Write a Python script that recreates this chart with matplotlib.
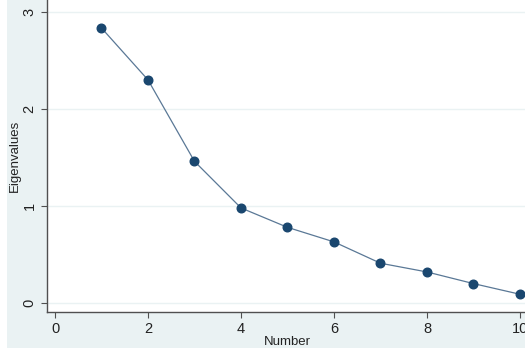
import matplotlib
matplotlib.use("Agg")
import matplotlib.pyplot as plt
from matplotlib.patches import Rectangle

number = [1, 2, 3, 4, 5, 6, 7, 8, 9, 10]
eigenvalues = [2.835, 2.30, 1.46, 0.98, 0.78, 0.63, 0.41, 0.32, 0.20, 0.09]
xticks = [0, 2, 4, 6, 8, 10]
yticks = [0, 1, 2, 3]

plt.rcParams['font.family'] = ['Liberation Sans', 'DejaVu Sans']

W, H = 525, 350
fig = plt.figure(figsize=(5.25, 3.5), dpi=100, facecolor='white')
bg = '#eaf2f3'
fig.patches.append(Rectangle((7 / W, 2 / H), 1 - 7 / W, 1 - 2 / H,
                             transform=fig.transFigure, facecolor=bg,
                             edgecolor='none', zorder=-10))

# pixel geometry
left_px, bottom_px = 47, 312
x0_px, xunit = 55, 46.5
y0_px, yunit = 303, 97
xmin = (left_px - x0_px) / xunit
xmax = 10.17
ymin = -(bottom_px - y0_px) / yunit
ymax = y0_px / yunit
ax_w = (xmax - xmin) * xunit
ax_h = bottom_px

ax = fig.add_axes([left_px / W, (H - bottom_px) / H, ax_w / W, ax_h / H])
ax.set_zorder(1)
ax.set_facecolor('white')
ax.set_xlim(xmin, xmax)
ax.set_ylim(ymin, ymax)

for y in yticks:
    ax.axhline(y, color='#eaf2f3', lw=1.0, zorder=1)

ax.plot(number, eigenvalues, color='#5a7896', lw=0.9, marker='o',
        markersize=6.2, markerfacecolor='#1a476f', markeredgecolor='#1a476f', zorder=3)

for s in ['top', 'right']:
    ax.spines[s].set_visible(False)
for s in ['left', 'bottom']:
    ax.spines[s].set_color('#505050')
    ax.spines[s].set_linewidth(1.0)

ax.set_xticks(xticks)
ax.set_yticks(yticks)
ax.set_yticklabels([str(v) for v in yticks], rotation=90, va='center')
ax.tick_params(axis='both', direction='out', length=4.5, width=0.8,
               color='#505050', labelsize=10.5, labelcolor='#222222', pad=3)

ax.set_xlabel('Number', fontsize=9.5, color='#222222', labelpad=-0.5)
ax.set_ylabel('Eigenvalues', fontsize=9.5, color='#222222', labelpad=1.5)

fig.savefig('out.png', dpi=100, facecolor='white')
